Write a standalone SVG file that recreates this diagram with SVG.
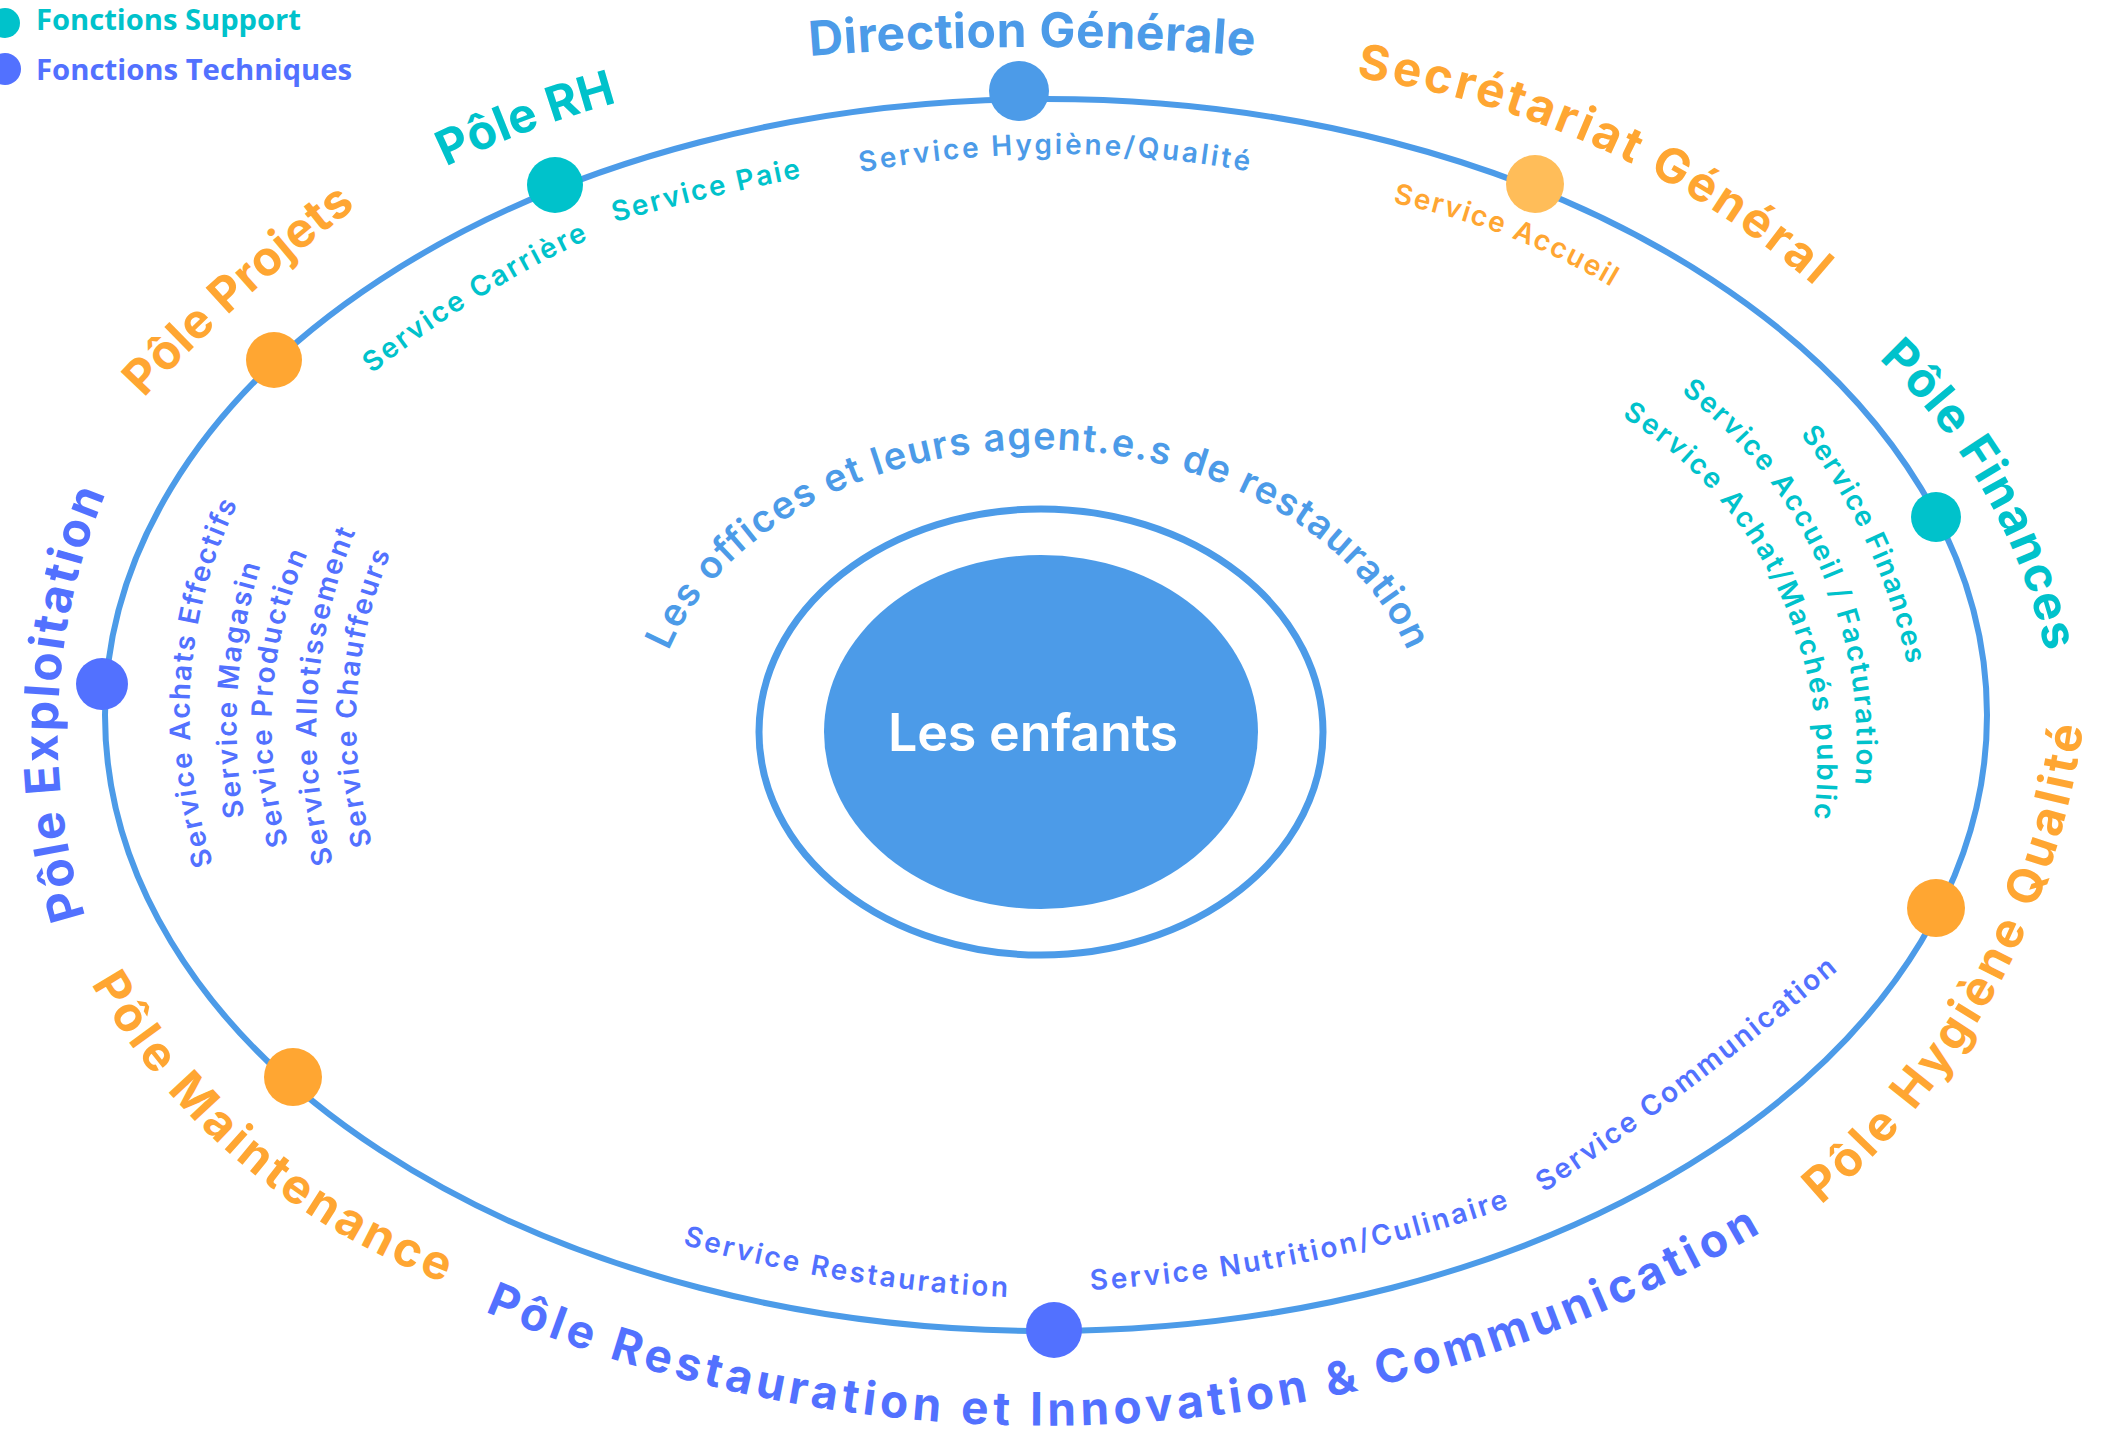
<svg xmlns="http://www.w3.org/2000/svg" width="2109" height="1436" viewBox="0 0 2109 1436">
<style>
  text { font-family: Inter, "Liberation Sans", sans-serif; }
  .pole { font-size: 48px; font-weight: 700; }
  .svc { font-size: 28px; font-weight: 600; }
  .offices { font-size: 38px; font-weight: 600; }
  .legend { font-family: "Open Sans", "Liberation Sans", sans-serif; font-size: 28px; font-weight: 700; }
  .teal { fill: #00C2CB; }
  .violet { fill: #5271FF; }
  .orange { fill: #FFA632; }
  .blue { fill: #4C9BE8; }
  .lorange { fill: #FFBD59; }
  .orbit { fill: none; stroke: #4C9BE8; stroke-width: 6; }
  .ring { fill: none; stroke: #4C9BE8; stroke-width: 7; }
  .tp { text-anchor: middle; }
</style>
<defs>
  <path id="p-dg" d="M 811 56 A 2718 2718 0 0 1 1253 56"/>
  <path id="p-rh" d="M 447 166 A 1014 1014 0 0 1 616 103"/>
  <path id="p-proj" d="M 145 397 A 1666 1666 0 0 1 355 208"/>
  <path id="p-sg" d="M 1358 78 A 886 886 0 0 1 1813 285"/>
  <path id="p-fin" d="M 1880 360 A 569 569 0 0 1 2045 650"/>
  <path id="p-hq" d="M 1822 1204 A 762 762 0 0 0 2083 728"/>
  <path id="p-resto" d="M 486 1312 A 1427 1427 0 0 0 1760 1233"/>
  <path id="p-maint" d="M 92 985 A 681 681 0 0 0 443 1282"/>
  <path id="p-expl" d="M 85 915 A 624 624 0 0 1 105 495"/>
  <path id="p-off" d="M 672 643 A 388 290 0 0 1 1404 643"/>
  <path id="s-hq" d="M 862 172 A 1068 1068 0 0 1 1247 171"/>
  <path id="s-paie" d="M 616 222 A 2238 2238 0 0 1 800 178"/>
  <path id="s-carr" d="M 373 373 A 1048 1048 0 0 1 587 240"/>
  <path id="s-acc" d="M 1394 203 A 702 702 0 0 1 1610 286"/>
  <path id="s-fin" d="M 1801 435 A 579 579 0 0 1 1907 663"/>
  <path id="s-fact" d="M 1682 393 A 441 441 0 0 1 1855 783"/>
  <path id="s-achat" d="M 1623 417 A 410 410 0 0 1 1814 817"/>
  <path id="s-resto" d="M 684 1245 A 1420 1420 0 0 0 1006 1297"/>
  <path id="s-nutri" d="M 1092 1290 A 1612 1612 0 0 0 1508 1208"/>
  <path id="s-comm" d="M 1545 1192 A 3355 3355 0 0 0 1837 971"/>
  <path id="s-ae" d="M 213 863 A 484 484 0 0 1 237 505"/>
  <path id="s-mag" d="M 244 815 A 543 543 0 0 1 260 567"/>
  <path id="s-prod" d="M 288 843 A 429 429 0 0 1 307 555"/>
  <path id="s-allo" d="M 333 862 A 524 524 0 0 1 355 533"/>
  <path id="s-chauf" d="M 372 843 A 446 446 0 0 1 390 555"/>
</defs>
<rect width="2109" height="1436" fill="#FFFFFF"/>

<g id="legend">
  <circle cx="5" cy="23" r="15" class="teal"/>
  <text x="36" y="30" class="legend teal" textLength="265" lengthAdjust="spacingAndGlyphs">Fonctions Support</text>
  <circle cx="5" cy="69" r="16" class="violet"/>
  <text x="36" y="80" class="legend violet" textLength="316" lengthAdjust="spacingAndGlyphs">Fonctions Techniques</text>
</g>

<g id="connectors">
  <ellipse cx="1046" cy="715" rx="941" ry="616" class="orbit"/>
</g>

<g id="offices">
  <ellipse cx="1041" cy="732" rx="282" ry="223" class="ring"/>
  <text class="offices blue"><textPath href="#p-off" startOffset="50%" class="tp" textLength="889" lengthAdjust="spacing">Les offices et leurs agent.e.s de restauration</textPath></text>
</g>

<g id="enfants">
  <ellipse cx="1041" cy="732" rx="217" ry="177" fill="#4C9BE8"/>
  <text x="1033" y="751" text-anchor="middle" font-size="52" font-weight="600" fill="#FFFFFF" textLength="290" lengthAdjust="spacing">Les enfants</text>
</g>

<g id="direction-generale">
  <circle cx="1019" cy="91" r="30" class="blue"/>
  <text class="pole blue"><textPath href="#p-dg" startOffset="50%" class="tp" textLength="445" lengthAdjust="spacing">Direction Générale</textPath></text>
  <text class="svc blue"><textPath href="#s-hq" startOffset="50%" class="tp" textLength="390" lengthAdjust="spacing">Service Hygiène/Qualité</textPath></text>
</g>

<g id="pole-rh">
  <circle cx="555" cy="185" r="28" class="teal"/>
  <text class="pole teal"><textPath href="#p-rh" startOffset="50%" class="tp" textLength="183" lengthAdjust="spacing">Pôle RH</textPath></text>
  <text class="svc teal"><textPath href="#s-paie" startOffset="50%" class="tp" textLength="192" lengthAdjust="spacing">Service Paie</textPath></text>
  <text class="svc teal"><textPath href="#s-carr" startOffset="50%" class="tp" textLength="255" lengthAdjust="spacing">Service Carrière</textPath></text>
</g>

<g id="pole-projets">
  <circle cx="274" cy="360" r="28" class="orange"/>
  <text class="pole orange"><textPath href="#p-proj" startOffset="50%" class="tp" textLength="286" lengthAdjust="spacing">Pôle Projets</textPath></text>
</g>

<g id="secretariat-general">
  <circle cx="1535" cy="184" r="29" class="lorange"/>
  <text class="pole orange"><textPath href="#p-sg" startOffset="50%" class="tp" textLength="510" lengthAdjust="spacing">Secrétariat Général</textPath></text>
  <text class="svc orange"><textPath href="#s-acc" startOffset="50%" class="tp" textLength="235" lengthAdjust="spacing">Service Accueil</textPath></text>
</g>

<g id="pole-finances">
  <circle cx="1936" cy="517" r="25" class="teal"/>
  <text class="pole teal"><textPath href="#p-fin" startOffset="50%" class="tp" textLength="342" lengthAdjust="spacing">Pôle Finances</textPath></text>
  <text class="svc teal"><textPath href="#s-fin" startOffset="50%" class="tp" textLength="256" lengthAdjust="spacing">Service Finances</textPath></text>
  <text class="svc teal"><textPath href="#s-fact" startOffset="50%" class="tp" textLength="448" lengthAdjust="spacing">Service Accueil / Facturation</textPath></text>
  <text class="svc teal"><textPath href="#s-achat" startOffset="50%" class="tp" textLength="471" lengthAdjust="spacing">Service Achat/Marchés public</textPath></text>
</g>

<g id="pole-hygiene-qualite">
  <circle cx="1936" cy="908" r="29" class="orange"/>
  <text class="pole orange"><textPath href="#p-hq" startOffset="50%" class="tp" textLength="558" lengthAdjust="spacing">Pôle Hygiène Qualité</textPath></text>
</g>

<g id="pole-restauration">
  <circle cx="1054" cy="1330" r="28" class="violet"/>
  <text class="pole violet" style="font-size:46px"><textPath href="#p-resto" startOffset="50%" class="tp" textLength="1326" lengthAdjust="spacing">Pôle Restauration et Innovation &amp; Communication</textPath></text>
  <text class="svc violet"><textPath href="#s-resto" startOffset="50%" class="tp" textLength="330" lengthAdjust="spacing">Service Restauration</textPath></text>
  <text class="svc violet"><textPath href="#s-nutri" startOffset="50%" class="tp" textLength="428" lengthAdjust="spacing">Service Nutrition/Culinaire</textPath></text>
  <text class="svc violet"><textPath href="#s-comm" startOffset="50%" class="tp" textLength="369" lengthAdjust="spacing">Service Communication</textPath></text>
</g>

<g id="pole-maintenance">
  <circle cx="293" cy="1077" r="29" class="orange"/>
  <text class="pole orange"><textPath href="#p-maint" startOffset="50%" class="tp" textLength="472" lengthAdjust="spacing">Pôle Maintenance</textPath></text>
</g>

<g id="pole-exploitation">
  <circle cx="102" cy="684" r="26" class="violet"/>
  <text class="pole violet"><textPath href="#p-expl" startOffset="50%" class="tp" textLength="432" lengthAdjust="spacing">Pôle Exploitation</textPath></text>
  <text class="svc violet"><textPath href="#s-ae" startOffset="50%" class="tp" textLength="370" lengthAdjust="spacing">Service Achats Effectifs</textPath></text>
  <text class="svc violet"><textPath href="#s-mag" startOffset="50%" class="tp" textLength="254" lengthAdjust="spacing">Service Magasin</textPath></text>
  <text class="svc violet"><textPath href="#s-prod" startOffset="50%" class="tp" textLength="297" lengthAdjust="spacing">Service Production</textPath></text>
  <text class="svc violet"><textPath href="#s-allo" startOffset="50%" class="tp" textLength="338" lengthAdjust="spacing">Service Allotissement</textPath></text>
  <text class="svc violet"><textPath href="#s-chauf" startOffset="50%" class="tp" textLength="297" lengthAdjust="spacing">Service Chauffeurs</textPath></text>
</g>
</svg>
